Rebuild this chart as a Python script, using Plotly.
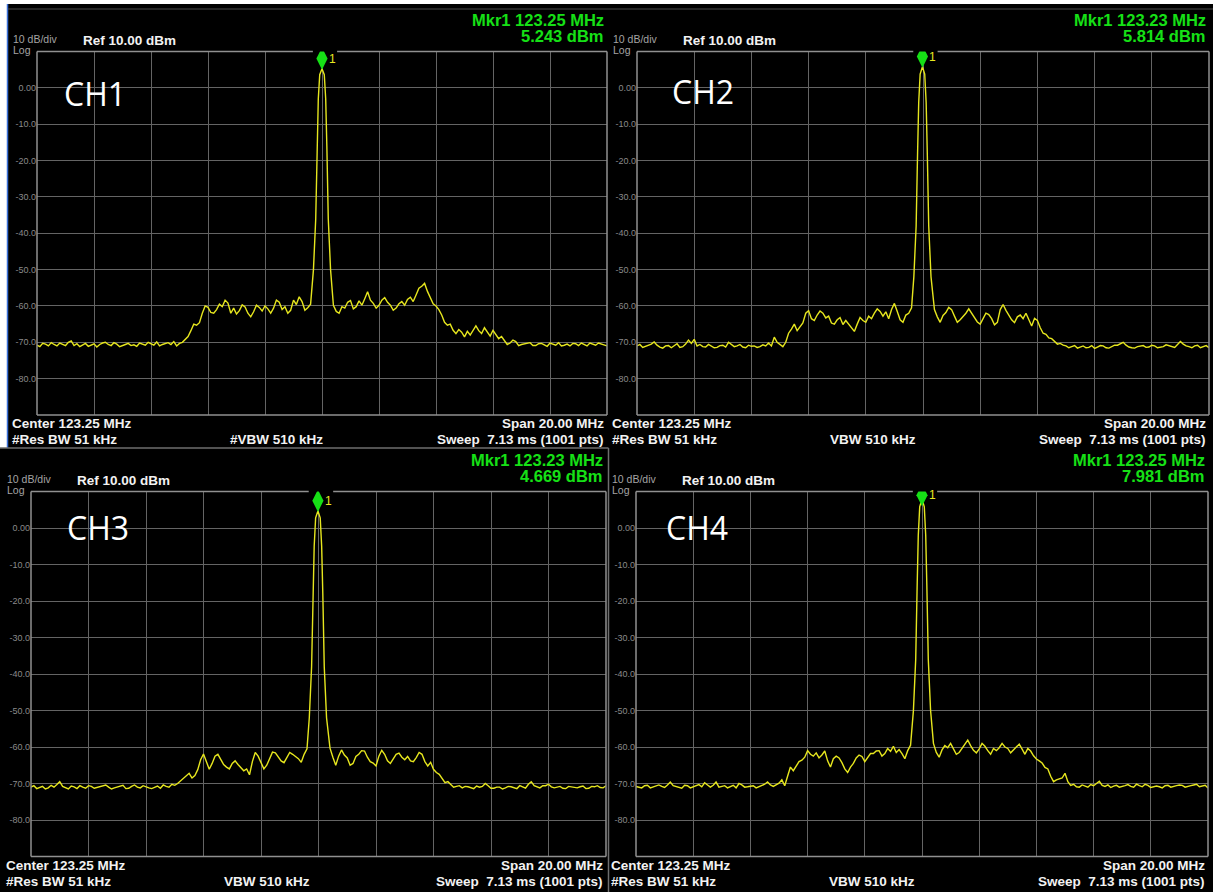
import plotly.graph_objects as go

# ---------------------------------------------------------------------------
# Sweep settings (shared by all four captures)
# ---------------------------------------------------------------------------
CENTER_MHZ = 123.25
SPAN_MHZ = 20.0
REF_DBM = 10.0
BOTTOM_DBM = -90.0

CHANNELS = ["CH1", "CH2", "CH3", "CH4"]
MARKER_MHZ = [123.25, 123.23, 123.23, 123.25]
MARKER_DBM = [5.243, 5.814, 4.669, 7.981]
VBW_LABELS = ["#VBW 510 kHz", "VBW 510 kHz", "VBW 510 kHz", "VBW 510 kHz"]

Y_TICKS = [0, -10, -20, -30, -40, -50, -60, -70, -80]
Y_TICK_TEXT = ["0.00", "-10.0", "-20.0", "-30.0", "-40.0", "-50.0", "-60.0", "-70.0", "-80.0"]

# Frequency offsets from centre (MHz): 0.1 MHz sweep on each side of the carrier,
# finer points across the carrier itself (relative to the marker frequency).
OFFSETS_LEFT = [round(-10.0 + 0.1 * i, 1) for i in range(97)]   # -10.0 .. -0.4
OFFSETS_RIGHT = [round(0.4 + 0.1 * i, 1) for i in range(97)]    #   0.4 .. 10.0
PEAK_OFFSETS_LEFT = [-0.3, -0.22, -0.17, -0.13, -0.08]
PEAK_OFFSETS_RIGHT = [0.08, 0.13, 0.17, 0.22, 0.3]

# ---------------------------------------------------------------------------
# Trace levels (dBm).  *_LEFT / *_RIGHT hold the levels on the even 0.2 MHz
# points, *_MID the levels on the 0.1 MHz points between them.
# ---------------------------------------------------------------------------
CH1_LEFT = [
    -70.8, -70.3, -71.0, -70.6, -70.2, -70.9, -69.6, -70.4, -70.8, -71.1,
    -70.4, -70.6, -70.0, -70.9, -70.5, -71.0, -70.3, -70.7, -70.2, -70.8,
    -70.4, -69.9, -70.6, -70.1, -69.8, -70.3,
    -69.2, -66.8, -65.3, -62.0,
    -60.4, -62.0, -59.5, -58.4, -62.0, -62.2, -59.7, -62.0, -61.6, -60.4,
    -60.0, -62.0, -58.4, -61.0, -62.0, -58.4, -57.5, -61.2, -59.5,
]
CH1_LEFT_MID = [
    -71.2, -70.5, -70.1, -71.0, -70.6, -70.0, -70.9, -71.2, -70.3, -70.7,
    -71.3, -70.2, -70.6, -70.1, -71.2, -70.6, -70.9, -71.1, -70.4, -70.0,
    -70.8, -71.0, -70.3, -70.6, -71.0,
    -70.0, -68.4, -65.0, -64.6, -60.0, -61.8, -61.0, -60.2, -59.2, -60.6,
    -61.3, -60.3, -63.0, -59.8, -61.4, -60.8, -60.6, -59.0, -60.2, -61.2,
    -59.6, -58.8, -60.5,
]
CH1_PEAK_LEFT = [-50.0, -36.0, -16.0, -3.0, 3.6]
CH1_PEAK_RIGHT = [3.6, -3.0, -16.0, -36.0, -50.0]
CH1_RIGHT = [
    -59.8, -62.0, -60.6, -58.5, -60.2, -59.8, -56.1, -59.3, -59.8, -57.7,
    -59.8, -60.6, -58.8, -58.2, -58.8, -55.1, -53.8, -57.9, -60.0, -62.5,
    -65.3, -66.7, -66.5, -68.5, -68.0, -65.5, -67.6, -67.1, -66.7, -69.0,
    -69.5, -70.2, -69.8, -70.6, -70.1, -70.9, -70.4, -70.7, -70.2, -70.8,
    -71.0, -70.5, -70.3, -70.9, -70.6, -70.2, -70.8, -70.5, -71.0,
]
CH1_RIGHT_MID = [
    -61.5, -60.2, -59.0, -60.8, -58.6, -58.0, -58.4, -60.6, -58.4, -59.0,
    -61.2, -59.4, -59.8, -57.6, -57.0, -54.6, -56.0, -59.4, -61.0, -64.5,
    -65.0, -67.6, -67.2, -67.0, -66.6, -66.8, -66.0, -68.3, -67.8, -68.4,
    -70.6, -69.4, -70.9, -70.4, -70.1, -70.9, -70.3, -71.1, -70.4, -70.1,
    -70.8, -71.0, -70.4, -70.2, -71.0, -70.6, -70.2, -70.7,
]

CH2_LEFT = [
    -71.0, -71.4, -70.9, -69.9, -71.3, -71.0, -71.5, -70.4, -71.2, -69.4,
    -69.2, -70.6, -71.3, -71.0, -71.4, -70.8, -70.0, -71.2, -70.6, -71.5,
    -71.1, -71.4, -70.7, -70.2,
    -68.6, -70.6, -70.0, -66.4, -66.8, -64.7, -61.3, -64.0, -61.4, -63.3,
    -64.7, -63.8, -65.1, -65.0, -67.0, -63.2, -64.5, -63.5, -60.8, -62.8,
    -63.5, -59.3, -63.8, -62.5, -60.5,
]
CH2_LEFT_MID = [
    -70.6, -71.1, -70.5, -70.8, -71.6, -70.9, -71.0, -71.4, -70.5, -70.3,
    -71.0, -71.2, -70.6, -71.5, -70.9, -71.3, -70.7, -71.0, -71.3, -70.8,
    -71.0, -71.2, -71.0,
    -71.0, -70.0, -71.2, -67.5, -65.0, -65.8, -62.0, -63.5, -62.5, -62.0,
    -62.8, -65.0, -63.2, -64.0, -65.8, -65.0, -64.0, -62.8, -62.0, -61.5,
    -61.6, -61.0, -61.5, -64.5, -62.0,
]
CH2_PEAK_LEFT = [-52.0, -38.0, -18.0, -4.0, 3.8]
CH2_PEAK_RIGHT = [3.8, -4.0, -18.0, -38.0, -52.0]
CH2_RIGHT = [
    -61.0, -64.5, -61.8, -61.0, -64.5, -63.0, -60.8, -63.5, -65.0, -62.0,
    -63.5, -64.5, -59.6, -62.5, -64.6, -62.5, -62.0, -65.5, -64.0, -67.5,
    -68.8, -69.8, -70.3, -71.0,
    -71.2, -71.6, -71.0, -71.4, -71.7, -70.9, -71.5, -71.2, -70.8, -70.0,
    -71.3, -71.6, -71.0, -71.4, -70.8, -71.5, -71.2, -70.9, -71.4, -69.8,
    -71.0, -71.5, -70.8, -71.2, -71.5,
]
CH2_RIGHT_MID = [
    -63.0, -62.6, -60.4, -62.8, -63.8, -62.0, -62.0, -64.4, -63.5, -62.4,
    -65.2, -61.0, -61.2, -63.8, -63.0, -63.5, -64.0, -63.4, -66.0, -67.8,
    -69.0, -70.5, -70.8, -71.5, -70.9, -71.3, -71.5, -70.9, -71.3, -71.0,
    -71.6, -70.8, -70.4, -70.8, -71.5, -71.2, -70.9, -71.3, -71.0, -71.4,
    -70.7, -71.2, -70.6, -70.5, -71.2, -71.0, -71.5, -70.9,
]

CH3_LEFT = [
    -71.0, -71.4, -70.8, -71.2, -71.0, -69.5, -71.2, -70.7, -71.4, -71.0,
    -70.6, -71.3, -71.0, -70.4, -71.5, -70.9, -70.5, -71.3, -70.4, -71.2,
    -71.0, -71.4, -70.7, -70.4, -71.0,
    -70.5, -69.3, -67.8, -68.5, -66.2, -61.9, -66.1, -62.5, -63.5, -65.5,
    -64.5, -64.8, -66.5, -67.6, -61.5, -64.5, -65.0, -61.4, -62.8, -64.3,
    -61.5, -62.5, -64.2, -60.5,
]
CH3_LEFT_MID = [
    -70.6, -71.1, -71.5, -70.5, -70.3, -70.8, -71.5, -70.9, -70.6, -71.3,
    -70.8, -71.1, -70.6, -71.0, -71.2, -70.7, -71.4, -70.8, -71.0, -70.6,
    -71.2, -71.0, -71.3, -70.8,
    -70.2, -70.0, -68.4, -67.2, -67.8, -63.5, -63.8, -64.5, -62.0, -64.8,
    -66.0, -63.8, -65.8, -66.0, -64.0, -62.5, -66.0, -63.0, -61.6, -63.8,
    -63.0, -62.0, -63.2, -62.0,
]
CH3_PEAK_LEFT = [-52.0, -38.0, -18.0, -5.0, 2.8]
CH3_PEAK_RIGHT = [2.8, -5.0, -18.0, -38.0, -52.0]
CH3_RIGHT = [
    -60.3, -65.0, -60.8, -63.0, -64.5, -62.0, -61.1, -64.0, -65.2, -60.9,
    -63.8, -63.3, -61.7, -63.5, -63.8, -62.9, -62.0, -65.2, -66.1, -67.5,
    -69.8, -70.3, -70.8, -71.2,
    -70.9, -71.4, -71.0, -70.0, -71.3, -71.0, -71.5, -70.8, -71.2, -70.6,
    -71.3, -69.5, -71.0, -70.6, -70.2, -71.2, -70.8, -71.4, -70.9, -71.2,
    -70.7, -71.3, -70.9, -71.1, -70.6,
]
CH3_RIGHT_MID = [
    -62.8, -62.5, -62.2, -65.0, -62.6, -61.0, -62.8, -64.4, -62.5, -62.0,
    -64.5, -62.0, -62.8, -62.6, -64.0, -61.5, -64.0, -64.2, -67.0, -68.8,
    -69.5, -71.0, -70.6, -70.8, -71.2, -70.7, -70.8, -70.6, -71.3, -71.0,
    -71.2, -70.9, -71.4, -70.9, -70.2, -70.6, -71.2, -70.6, -70.9, -71.0,
    -71.3, -70.8, -71.0, -70.9, -71.4, -70.8, -70.6, -71.2,
]

CH4_LEFT = [
    -70.8, -71.2, -70.5, -70.9, -70.4, -71.1, -69.6, -70.9, -71.3, -70.6,
    -70.9, -70.3, -69.8, -71.0, -69.6, -70.8, -71.2, -70.5, -70.0, -71.0,
    -70.7, -71.2, -70.6, -69.6, -70.8,
    -69.9, -70.6, -65.5, -65.1, -63.6, -61.0, -62.5, -63.0, -61.1, -65.5,
    -62.5, -64.3, -67.0, -64.5, -62.2, -64.0, -61.8, -61.1, -62.5, -60.4,
    -59.8, -60.7, -63.2, -59.5,
]
CH4_LEFT_MID = [
    -71.0, -70.6, -71.2, -70.5, -70.8, -70.4, -70.6, -71.0, -70.5, -71.2,
    -70.6, -70.9, -70.4, -70.5, -71.0, -70.6, -70.8, -71.2, -70.4, -70.9,
    -70.6, -70.9, -70.2, -70.4,
    -70.4, -69.0, -68.0, -66.5, -64.0, -62.8, -62.0, -61.6, -62.2, -63.8,
    -63.2, -63.0, -66.0, -65.5, -63.0, -62.6, -62.8, -61.8, -61.0, -61.8,
    -61.2, -61.5, -61.8, -61.0,
]
CH4_PEAK_LEFT = [-50.0, -36.0, -16.0, -2.0, 5.8]
CH4_PEAK_RIGHT = [5.8, -2.0, -16.0, -36.0, -50.0]
CH4_RIGHT = [
    -59.0, -62.8, -59.6, -59.0, -62.0, -60.4, -58.1, -60.9, -60.5, -59.8,
    -62.0, -61.0, -59.0, -60.4, -60.8, -59.2, -62.0, -61.1, -63.3, -64.4,
    -66.0, -69.5, -68.8, -67.2,
    -70.5, -70.9, -70.4, -71.0, -70.6, -69.4, -70.8, -71.1, -70.5, -70.9,
    -70.3, -71.0, -70.6, -70.2, -71.1, -70.7, -71.2, -70.5, -70.9, -70.4,
    -71.0, -70.6, -70.2, -70.8, -71.2,
]
CH4_RIGHT_MID = [
    -61.5, -60.8, -60.2, -60.5, -61.5, -59.0, -59.6, -61.6, -59.0, -61.0,
    -60.4, -60.2, -60.0, -61.6, -60.0, -60.6, -60.4, -62.4, -63.8, -65.6,
    -68.0, -69.0, -68.5, -69.5, -70.2, -71.0, -70.6, -70.3, -70.0, -70.5,
    -70.4, -70.7, -71.0, -70.6, -70.8, -70.2, -70.9, -70.5, -70.8, -70.9,
    -70.6, -71.0, -70.6, -70.5, -70.9, -70.4, -70.9, -70.5,
]

TRACES = [
    (CH1_LEFT, CH1_LEFT_MID, CH1_PEAK_LEFT, CH1_PEAK_RIGHT, CH1_RIGHT, CH1_RIGHT_MID),
    (CH2_LEFT, CH2_LEFT_MID, CH2_PEAK_LEFT, CH2_PEAK_RIGHT, CH2_RIGHT, CH2_RIGHT_MID),
    (CH3_LEFT, CH3_LEFT_MID, CH3_PEAK_LEFT, CH3_PEAK_RIGHT, CH3_RIGHT, CH3_RIGHT_MID),
    (CH4_LEFT, CH4_LEFT_MID, CH4_PEAK_LEFT, CH4_PEAK_RIGHT, CH4_RIGHT, CH4_RIGHT_MID),
]


def interleave(even, mid):
    """Merge 0.2 MHz levels with the in-between 0.1 MHz levels."""
    assert len(even) == len(mid) + 1
    out = []
    for a, b in zip(even, mid):
        out += [a, b]
    out.append(even[-1])
    return out


# ---------------------------------------------------------------------------
# Screen layout (pixels) and styling
# ---------------------------------------------------------------------------
W, H = 1213, 892
PANELS = [
    dict(gx0=37, gx1=607, gy0=51.5, gy1=415, ch_x=62, ch_y=94),
    dict(gx0=637, gx1=1209, gy0=51.5, gy1=415, ch_x=670, ch_y=92),
    dict(gx0=31, gx1=606, gy0=491.5, gy1=856.5, ch_x=65, ch_y=527),
    dict(gx0=636, gx1=1208, gy0=491.5, gy1=856.5, ch_x=664, ch_y=527),
]

FONT = "Liberation Sans, Arial, sans-serif"
TRACE_COLOR = "#e6e61e"
GRID_COLOR = "#646464"
BORDER_COLOR = "#909090"
GREEN = "#16e016"
WHITE = "#f2f2f2"
GREY_TEXT = "#a4a4a4"
MARKER_LIFT_DB = 2.8
MARKER_MAX_DB = 9.0


def px(x):
    return x / W


def py(y):
    return 1 - y / H


f_start = CENTER_MHZ - SPAN_MHZ / 2
f_stop = CENTER_MHZ + SPAN_MHZ / 2
x_grid = [f_start + SPAN_MHZ / 10 * k for k in range(1, 10)]

fig = go.Figure()
annotations = []
shapes = []
layout_axes = {}


def add_text(text, x, y, size, color, anchor="left", bold=False, family=FONT):
    annotations.append(dict(
        text=f"<b>{text}</b>" if bold else text,
        x=px(x), y=py(y), xref="paper", yref="paper",
        xanchor=anchor, yanchor="middle", showarrow=False,
        font=dict(size=size, color=color, family=family),
    ))


for i, p in enumerate(PANELS):
    k = i + 1
    xa = "x" if k == 1 else f"x{k}"
    ya = "y" if k == 1 else f"y{k}"
    layout_axes["xaxis" if k == 1 else f"xaxis{k}"] = dict(
        domain=[px(p["gx0"]), px(p["gx1"])], range=[f_start, f_stop], anchor=ya,
        tickmode="array", tickvals=x_grid, showticklabels=False, ticks="",
        showgrid=True, gridcolor=GRID_COLOR, gridwidth=1, zeroline=False,
        showline=False, fixedrange=True,
    )
    layout_axes["yaxis" if k == 1 else f"yaxis{k}"] = dict(
        domain=[py(p["gy1"]), py(p["gy0"])], range=[BOTTOM_DBM, REF_DBM], anchor=xa,
        tickmode="array", tickvals=Y_TICKS, ticktext=Y_TICK_TEXT, ticks="",
        tickfont=dict(size=9, color="#8a8a8a", family=FONT),
        showgrid=True, gridcolor=GRID_COLOR, gridwidth=1, zeroline=False,
        showline=False, fixedrange=True,
    )

    left, left_mid, pk_left, pk_right, right, right_mid = TRACES[i]
    mkr_f, mkr_db = MARKER_MHZ[i], MARKER_DBM[i]
    xs = ([CENTER_MHZ + o for o in OFFSETS_LEFT]
          + [mkr_f + o for o in PEAK_OFFSETS_LEFT] + [mkr_f]
          + [mkr_f + o for o in PEAK_OFFSETS_RIGHT]
          + [CENTER_MHZ + o for o in OFFSETS_RIGHT])
    ys = (interleave(left, left_mid) + pk_left + [mkr_db] + pk_right
          + interleave(right, right_mid))
    fig.add_trace(go.Scatter(
        x=xs, y=ys, xaxis=xa, yaxis=ya, mode="lines",
        line=dict(color=TRACE_COLOR, width=1.4), hoverinfo="skip", showlegend=False,
    ))

    # Marker 1 diamond above the carrier
    mk_y = min(mkr_db + MARKER_LIFT_DB, MARKER_MAX_DB)
    fig.add_trace(go.Scatter(
        x=[mkr_f], y=[mk_y], xaxis=xa, yaxis=ya, mode="markers",
        marker=dict(symbol="diamond-tall", size=16, color=GREEN, line=dict(width=0)),
        hoverinfo="skip", showlegend=False,
    ))
    annotations.append(dict(
        text="1", x=mkr_f, y=mk_y, xref=xa, yref=ya, xanchor="left", yanchor="middle",
        xshift=5, showarrow=False, font=dict(size=12, color="#e8e820", family=FONT),
    ))

    # Graticule border, with a gap in the top edge for the marker
    xd, yd = f"{xa} domain", f"{ya} domain"
    border = dict(color=BORDER_COLOR, width=1.5)
    shapes += [
        dict(type="line", xref=xd, yref=yd, x0=0, x1=0, y0=0, y1=1, line=border),
        dict(type="line", xref=xd, yref=yd, x0=1, x1=1, y0=0, y1=1, line=border),
        dict(type="line", xref=xd, yref=yd, x0=0, x1=1, y0=0, y1=0, line=border),
        dict(type="line", xref=xa, yref=yd, x0=f_start, x1=mkr_f - 0.32, y0=1, y1=1, line=border),
        dict(type="line", xref=xa, yref=yd, x0=mkr_f + 0.53, x1=f_stop, y0=1, y1=1, line=border),
    ]

    gx0, gx1, gy0, gy1 = p["gx0"], p["gx1"], p["gy0"], p["gy1"]
    # Header
    add_text("10 dB/div", gx0 - 26, gy0 - 13, 10.5, GREY_TEXT)
    add_text("Log", gx0 - 26, gy0 - 1, 10.5, GREY_TEXT)
    add_text("Ref 10.00 dBm", gx0 + 44, gy0 - 11, 13.5, WHITE, bold=True)
    add_text(f"Mkr1 {mkr_f:.2f} MHz", gx1 - 1, gy0 - 32, 16.5, GREEN, anchor="right", bold=True)
    add_text(f"{mkr_db:.3f} dBm", gx1 - 1, gy0 - 15.5, 16.5, GREEN, anchor="right", bold=True)
    # Footer
    add_text(f"Center {CENTER_MHZ:.2f} MHz", gx0 - 27, gy1 + 8.5, 13.5, WHITE, bold=True)
    add_text("#Res BW 51 kHz", gx0 - 27, gy1 + 24.5, 13.5, WHITE, bold=True)
    add_text(VBW_LABELS[i], gx0 + 191, gy1 + 24.5, 13.5, WHITE, bold=True)
    add_text(f"Span {SPAN_MHZ:.2f} MHz", gx1 - 1, gy1 + 8.5, 13.5, WHITE, anchor="right", bold=True)
    add_text("Sweep\u00a0 7.13 ms (1001 pts)", gx1 - 1, gy1 + 24.5, 13.5, WHITE,
             anchor="right", bold=True)
    # Channel label
    add_text(CHANNELS[i], p["ch_x"], p["ch_y"], 32, "#ffffff",
             family="Open Sans, Liberation Sans, sans-serif")

# Screen frame: white margin strips, window edges and separators
shapes += [
    dict(type="rect", xref="paper", yref="paper", x0=0, x1=1, y0=py(4), y1=1,
         fillcolor="#ffffff", line=dict(width=0), layer="below"),
    dict(type="rect", xref="paper", yref="paper", x0=0, x1=px(7), y0=py(448), y1=1,
         fillcolor="#ffffff", line=dict(width=0), layer="below"),
    dict(type="line", xref="paper", yref="paper", x0=px(7.5), x1=px(7.5), y0=py(448), y1=py(4),
         line=dict(color="#3a6fd8", width=1.5)),
    dict(type="line", xref="paper", yref="paper", x0=px(8), x1=1, y0=py(9), y1=py(9),
         line=dict(color="#4a4a4a", width=1)),
    dict(type="line", xref="paper", yref="paper", x0=0, x1=px(608.5), y0=py(448), y1=py(448),
         line=dict(color="#6e6e6e", width=1.5)),
    dict(type="line", xref="paper", yref="paper", x0=px(608.5), x1=px(608.5), y0=0, y1=py(448),
         line=dict(color="#6e6e6e", width=1.5)),
]

fig.update_layout(
    width=W, height=H, margin=dict(l=0, r=0, t=0, b=0),
    paper_bgcolor="#000000", plot_bgcolor="#000000",
    font=dict(family=FONT, color=WHITE),
    showlegend=False, annotations=annotations, shapes=shapes,
    **layout_axes,
)

fig.write_html("out.html", config=dict(displayModeBar=False))
